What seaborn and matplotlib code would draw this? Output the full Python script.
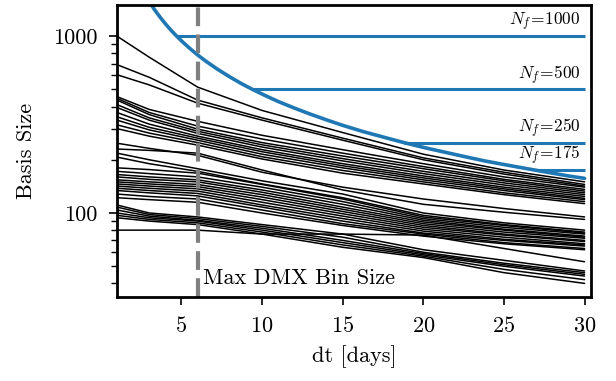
import numpy as np
import pandas as pd
import matplotlib
matplotlib.use("Agg")
import matplotlib.pyplot as plt
import matplotlib.ticker as mticker
import seaborn as sns

# ---- data ----
dt_grid = [1, 3, 6, 10, 15, 20, 25, 30]

upper_group = [
    [1000, 760, 515, 380, 285, 215, 175, 150],
    [690, 585, 435, 345, 265, 205, 170, 145],
    [605, 530, 418, 335, 258, 200, 166, 142],
    [455, 385, 330, 275, 228, 190, 160, 140],
    [445, 370, 310, 262, 218, 183, 155, 136],
    [435, 360, 298, 250, 210, 178, 152, 133],
    [410, 345, 290, 243, 203, 172, 148, 130],
    [395, 335, 282, 236, 197, 167, 144, 127],
    [370, 318, 272, 228, 190, 162, 140, 124],
    [350, 305, 265, 222, 185, 158, 137, 121],
    [335, 295, 258, 215, 180, 154, 134, 119],
    [315, 283, 250, 208, 174, 150, 130, 116],
    [300, 272, 242, 202, 168, 146, 127, 113],
    [248, 232, 212, 170, 140, 120, 106, 95],
    [230, 226, 218, 175, 135, 112, 101, 92],
]

middle_group = [
    [218, 200, 178, 152, 128, 100, 88, 80],
    [207, 190, 172, 146, 122, 97, 86, 78],
    [180, 176, 168, 145, 120, 95, 85, 77],
    [172, 167, 160, 140, 116, 93, 83, 76],
    [165, 160, 154, 135, 112, 91, 81, 74],
    [160, 155, 150, 131, 108, 89, 80, 73],
    [154, 150, 145, 127, 105, 87, 78, 72],
    [150, 146, 141, 123, 102, 85, 76, 70],
    [146, 142, 137, 119, 99, 83, 75, 69],
    [142, 138, 133, 115, 96, 81, 73, 67],
    [138, 134, 129, 111, 93, 79, 71, 66],
    [134, 130, 125, 108, 90, 77, 70, 65],
    [128, 124, 120, 104, 87, 76, 68, 63],
    [122, 119, 115, 100, 85, 74, 67, 62],
]

lower_group = [
    [111, 100, 95, 86, 76, 62, 54, 47],
    [108, 98, 93, 84, 73, 60, 52, 46],
    [104, 96, 91, 82, 70, 59, 51, 45],
    [100, 94, 90, 80, 68, 58, 50, 44],
    [97, 92, 88, 78, 66, 57, 48, 42],
    [94, 90, 86, 76, 64, 56, 46, 40],
    [80, 80, 80, 76, 76, 75, 63, 53],
]

curve_dt = [3.1, 3.3, 3.5, 3.8, 4.1, 4.4, 4.7, 5.1, 5.5, 6.0, 6.5, 7.2, 8.0, 8.7,
            9.4, 10.2, 11, 12, 13, 14, 15, 16.3, 17.5, 18.8, 20, 21.3, 22.5,
            23.8, 25, 26, 26.9, 28, 29, 30]
curve_size = [1516, 1424, 1343, 1237, 1146, 1068, 1000, 922, 855, 783, 723, 653,
              588, 540, 500, 461, 427, 392, 362, 336, 313, 288, 269, 250, 235,
              221, 209, 197, 188, 181, 175, 168, 162, 157]

nf_levels = [1000, 500, 250, 175]
nf_labels = ["1000", "500", "250", "175"]
max_dmx = 6
dmx_label = "Max DMX Bin Size"

# ---- styling ----
sns.set_theme(style="ticks")
plt.rcParams.update({
    "font.family": ["cmr10", "DejaVu Serif"],
    "mathtext.fontset": "cm",
    "axes.formatter.use_mathtext": True,
    "axes.unicode_minus": False,
    "axes.linewidth": 2.0,
    "axes.edgecolor": "black",
    "text.color": "black",
    "axes.labelcolor": "black",
    "xtick.color": "black",
    "ytick.color": "black",
    "xtick.direction": "out",
    "ytick.direction": "out",
})

rows = []
pid = 0
for group in (upper_group, middle_group, lower_group):
    for series in group:
        for x, y in zip(dt_grid, series):
            rows.append({"dt": x, "size": y, "pulsar": pid})
        pid += 1
df = pd.DataFrame(rows)

fig = plt.figure(figsize=(6.16, 3.81), dpi=100)
ax = fig.add_axes([117 / 616, 1 - 297 / 381, (591 - 117) / 616, (297 - 5) / 381])

sns.lineplot(data=df, x="dt", y="size", units="pulsar", estimator=None,
             color="black", lw=1.1, ax=ax, legend=False, zorder=2)
sns.lineplot(x=curve_dt, y=curve_size, color="#1f77b4", lw=2.6, ax=ax,
             legend=False, zorder=3)

x_end = dt_grid[-1]
for n, lab in zip(nf_levels, nf_labels):
    xs = np.interp(n, curve_size[::-1], curve_dt[::-1])
    ax.hlines(n, xs, x_end, color="#1f77b4", lw=2.2, zorder=3)
    ax.annotate(r"$N_f\!=\!" + lab + "$", xy=(x_end, n),
                xytext=(-3, 2), textcoords="offset points", ha="right",
                va="bottom", fontsize=12.5, color="black", zorder=5)

ax.axvline(max_dmx, color="#808080", lw=3, ls=(0, (4.5, 2)), zorder=4)
ax.text(max_dmx + 0.35, 39.5, dmx_label, fontsize=16, va="baseline",
        ha="left", color="black", zorder=5)

ax.set_yscale("log")
ax.set_xlim(1, 30.4)
ax.set_ylim(33.5, 1500)
ax.set_xticks([5, 10, 15, 20, 25, 30])
ax.yaxis.set_major_locator(mticker.FixedLocator([100, 1000]))
ax.yaxis.set_major_formatter(mticker.FuncFormatter(lambda v, _: f"{v:g}"))
ax.yaxis.set_minor_locator(mticker.LogLocator(base=10, subs=np.arange(2, 10)))
ax.yaxis.set_minor_formatter(mticker.NullFormatter())
ax.tick_params(axis="both", which="major", length=6, width=1.2, labelsize=16,
               pad=8, colors="black")
ax.tick_params(axis="y", which="minor", length=4, width=1.0)
ax.set_xlabel("dt [days]", fontsize=16, labelpad=6, color="black")
ax.set_ylabel("Basis Size", fontsize=16, labelpad=12, color="black")
for s in ax.spines.values():
    s.set_linewidth(2.0)
    s.set_zorder(6)

fig.savefig("out.png", dpi=100)
